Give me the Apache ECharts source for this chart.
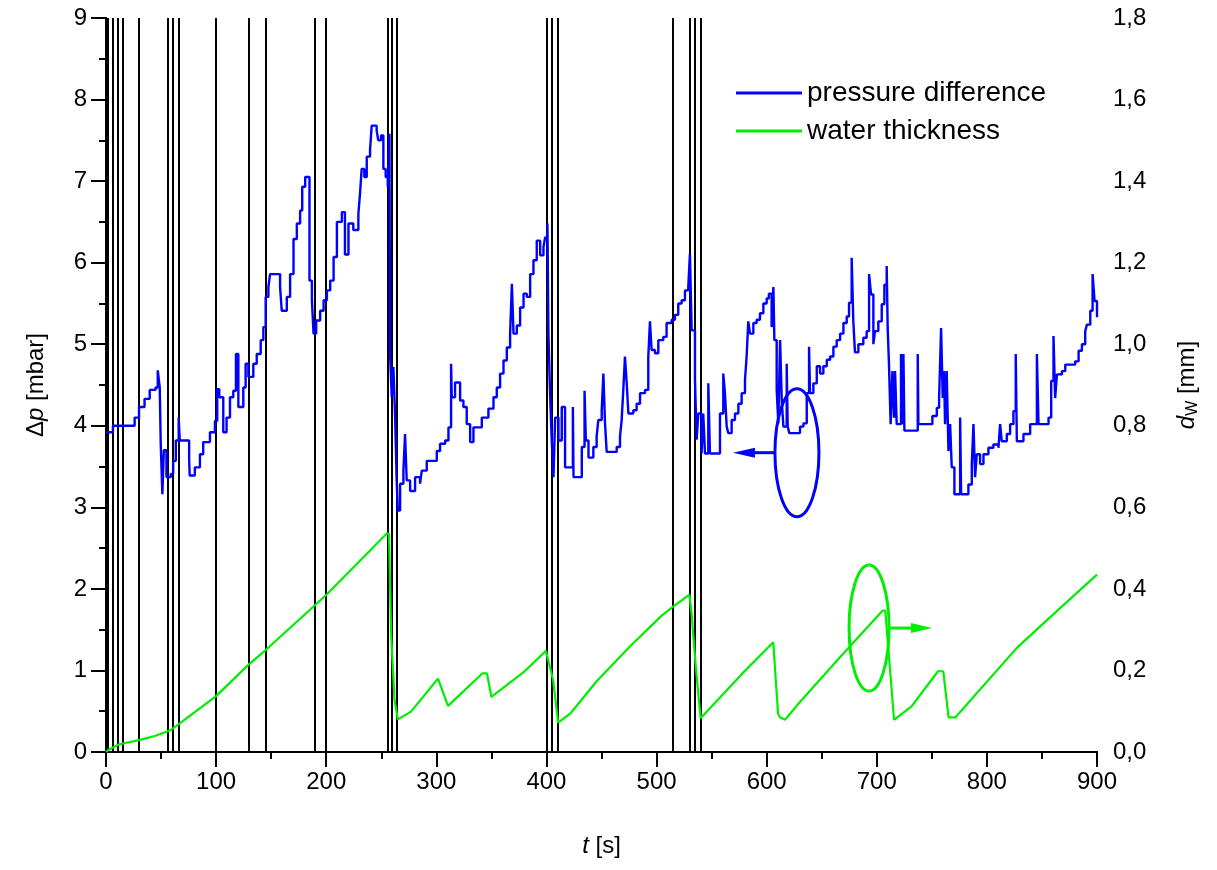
<!DOCTYPE html>
<html>
<head>
<meta charset="utf-8">
<script src="https://cdn.jsdelivr.net/npm/echarts@6/dist/echarts.min.js"></script>
<style>
html, body { margin: 0; padding: 0; background: #fff; }
#chart { width: 1217px; height: 870px; }
</style>
</head>
<body>
<div id="chart"></div>
<script>
// pressure difference [t (s), dp (mbar)], step-like recording
var pressureData = [
    [0, 3.92], [6.3, 4.0], [26, 4.1], [30, 4.23], [35, 4.33], [39.7, 4.44], [45, 4.47], [47, 4.68],
    [48.8, 4.47], [49.7, 3.78], [51.2, 3.16], [52.5, 3.7], [54.9, 3.37], [58.8, 3.41], [61, 3.57],
    [63.4, 3.82], [66, 4.1], [67, 3.82], [75.5, 3.59], [76, 3.39], [80.7, 3.49], [85.3, 3.65],
    [88.3, 3.8], [94.4, 3.92], [98.9, 4.06], [101, 4.45], [102.9, 4.35], [106.5, 3.92], [109.5, 4.1],
    [112.6, 4.35], [115.6, 4.43], [118, 4.88], [120.2, 4.23], [124.7, 4.47], [126.8, 4.76],
    [129.3, 4.6], [133.8, 4.76], [136.9, 4.88], [140.5, 5.05], [142.9, 5.21], [145, 5.58],
    [147.5, 5.7], [149, 5.86], [158.1, 5.7], [159.6, 5.41], [164.2, 5.58], [167.2, 5.86],
    [170.3, 6.29], [173.3, 6.48], [176.3, 6.64], [178.2, 6.93], [180.9, 7.05], [184.8, 5.78],
    [187, 5.54], [188.5, 5.13], [190.9, 5.29], [194.5, 5.41], [197.6, 5.54], [200.6, 5.66],
    [203.6, 5.78], [206.7, 6.07], [209.7, 6.5], [214.2, 6.62], [217, 6.1], [220.2, 6.48],
    [224.6, 6.4], [229.2, 6.6], [230.7, 6.85], [232.2, 7.15], [234.6, 7.05], [236.8, 7.3],
    [239.8, 7.38], [241.3, 7.68], [245.8, 7.62], [247.3, 7.5], [249.8, 7.56], [251.9, 7.15],
    [254, 7.05], [255.9, 6.93], [257.4, 7.58], [258, 4.88], [259.5, 4.35], [261, 4.72],
    [262.5, 4.14], [264, 3.33], [265, 2.96], [267.1, 3.29], [270.1, 3.45], [271.6, 3.9],
    [273.1, 3.33], [276.2, 3.2], [280.7, 3.37], [285.2, 3.29], [286.8, 3.45], [291.3, 3.57],
    [300.4, 3.69], [303.4, 3.78], [308, 3.82], [311, 3.98], [313.4, 4.76], [314, 4.35],
    [317, 4.53], [321.6, 4.31], [324.6, 4.23], [327.6, 4.02], [330.7, 3.8], [333.7, 3.98],
    [341.3, 4.1], [347.3, 4.21], [351.9, 4.35], [354.9, 4.47], [357.9, 4.64], [361, 4.8],
    [364, 4.96], [367, 5.13], [368.6, 5.74], [370.1, 5.13], [373.1, 5.23], [376.1, 5.45],
    [379.2, 5.62], [382.2, 5.58], [385.2, 5.86], [388.2, 6.03], [391.2, 6.27], [394.3, 6.09],
    [397.3, 6.19], [398.8, 6.31], [400.9, 6.48], [401.8, 5.13], [403.3, 4.39], [404.8, 3.82],
    [406.4, 3.37], [407.9, 4.1], [410.9, 3.82], [413.9, 4.23], [416.9, 3.49], [424, 4.23],
    [424.6, 3.37], [432.1, 3.74], [434.6, 4.43], [435.8, 3.82], [438.2, 3.61], [442.6, 3.74],
    [445.6, 3.87], [447.1, 4.07], [450.2, 4.19], [451.7, 4.64], [453.2, 4.03], [454.7, 3.68],
    [463.8, 3.74], [466.8, 3.87], [468.3, 4.07], [469.8, 4.44], [471.3, 4.85], [472.9, 4.52],
    [474.4, 4.15], [478.9, 4.19], [481.9, 4.27], [485, 4.4], [489.5, 4.44], [492.5, 4.85],
    [494, 5.28], [495.5, 4.93], [498.6, 4.89], [501.6, 5.05], [506.1, 5.09], [509.1, 5.26],
    [513.7, 5.3], [516.7, 5.36], [519.7, 5.5], [522.8, 5.54], [525.8, 5.66], [528.8, 5.7],
    [530.3, 6.11], [531.9, 5.17], [534.9, 4.56], [536.4, 3.83], [537.9, 4.15], [540.9, 3.66],
    [542.4, 4.15], [544, 3.66], [547, 4.52], [548.5, 3.66], [557.6, 4.15], [560.6, 4.64],
    [562.1, 4.4], [563.7, 3.99], [565.2, 3.91], [568.2, 4.07], [571.2, 4.15], [574.3, 4.27],
    [577.3, 4.4], [580.3, 4.56], [581.8, 4.85], [583.3, 5.28], [584.9, 5.13], [587.9, 5.26],
    [590.9, 5.3], [593.9, 5.38], [597, 5.5], [600, 5.56], [602, 5.62], [604.5, 5.21],
    [606.1, 5.7], [607, 5.05], [609.1, 4.44], [610.6, 4.03], [612.2, 5.05], [613.7, 4.31],
    [615.2, 3.99], [618.2, 4.76], [619.1, 3.99], [620.6, 3.91], [630.3, 3.99], [633.4, 4.03],
    [636.4, 4.4], [638.5, 4.97], [639.4, 4.4], [642.4, 4.52], [645.5, 4.73], [648.5, 4.64],
    [651.5, 4.73], [654.6, 4.81], [657.6, 4.85], [660.6, 4.97], [663.6, 5.05], [666.7, 5.13],
    [669.7, 5.26], [672.7, 5.34], [674.8, 5.51], [677.2, 6.06], [678.7, 5.28], [680.2, 4.9],
    [683.3, 5.0], [687.8, 5.08], [690.8, 5.16], [693, 5.86], [694.8, 5.61], [696.9, 5.0],
    [698.4, 5.16], [701.4, 5.28], [704.5, 5.49], [706.9, 5.73], [709, 5.96], [709.9, 5.2],
    [711.1, 4.75], [712.6, 4.02], [714.2, 4.67], [715.7, 4.1], [716.6, 4.67], [718.1, 4.02],
    [722, 4.88], [723.3, 4.02], [724.2, 4.88], [725.1, 3.94], [737.2, 4.88], [737.8, 4.02],
    [750.5, 4.12], [754.5, 4.22], [756.6, 4.34], [758.4, 5.2], [759.9, 4.34], [761.1, 4.67],
    [762, 4.02], [763.5, 4.67], [765.1, 3.69], [766.6, 4.02], [768.1, 3.49], [770.5, 3.16],
    [775.7, 4.1], [776.6, 3.16], [783.2, 3.28], [786.3, 3.53], [787.8, 4.02], [789.3, 3.37],
    [790.8, 3.65], [793.8, 3.53], [796.9, 3.65], [801.4, 3.73], [805.9, 3.77], [810.5, 3.73],
    [812, 4.02], [813.5, 3.81], [818.1, 3.9], [821.1, 4.02], [824.1, 4.18], [826.2, 4.88],
    [827.2, 3.81], [833.2, 3.9], [839.3, 4.02], [845.4, 4.88], [846.9, 4.02], [856, 4.1],
    [858.4, 4.55], [860.5, 5.1], [862, 4.34], [863.6, 4.63], [868.1, 4.67], [871.2, 4.75],
    [880.2, 4.79], [883.3, 4.92], [886.3, 5.0], [889.3, 5.16], [890.8, 5.24], [893.9, 5.41],
    [896, 5.86], [897.8, 5.53], [900, 5.33]
];

// water thickness [t (s), dW (mm)]
var thicknessData = [
    [0, 0.0], [2, 0.005], [12, 0.019], [30, 0.029], [45, 0.04], [59, 0.054], [67, 0.07],
    [100, 0.137], [129, 0.213], [145, 0.25], [189, 0.358], [200, 0.385], [255, 0.536],
    [257, 0.535], [259, 0.286], [262, 0.128], [265, 0.08], [277, 0.099], [301.5, 0.18],
    [310.6, 0.113], [342, 0.193], [346, 0.193], [350, 0.135], [379, 0.195], [399.5, 0.248],
    [406, 0.178], [410.6, 0.072], [421.9, 0.095], [445.8, 0.174], [476.2, 0.26],
    [504.9, 0.335], [514.5, 0.355], [529.8, 0.386], [532, 0.335], [535.3, 0.219], [540, 0.083],
    [578.4, 0.194], [606, 0.269], [610.3, 0.095], [612, 0.085], [616.7, 0.079], [629.4, 0.12],
    [667.8, 0.236], [705.4, 0.347], [707.7, 0.347], [715.7, 0.079], [731.6, 0.112],
    [755.6, 0.198], [760.4, 0.198], [765.2, 0.085], [771.5, 0.085], [827.4, 0.256],
    [865.7, 0.351], [900, 0.435]
];

// times of the vertical event lines (s)
var eventTimes = [2, 6, 11, 15, 30, 56, 61, 66, 100, 130, 145, 190, 200, 256, 259.5, 264,
    400, 405, 410, 515, 530, 535, 540];

// annotation anchors: [t, value on the axis the circle points to]
var pressureMark = [627.5, 3.67];
var thicknessMark = [693, 0.304];

// the reference lettering is a tall, narrow sans; use the narrow face when installed
function hasFont(name) {
    var ctx = document.createElement('canvas').getContext('2d');
    var s = 'pressure difference 0123456789';
    ctx.font = '40px monospace';
    var a = ctx.measureText(s).width;
    ctx.font = '40px "' + name + '", monospace';
    return ctx.measureText(s).width !== a;
}
var narrow = hasFont('Liberation Sans Narrow');
var FONT = narrow ? '"Liberation Sans Narrow", "Liberation Sans", sans-serif' : '"Liberation Sans", Arial, sans-serif';
var SIZE = narrow ? 29 : 24;
var LEGEND_FONT = '"Liberation Sans", Arial, sans-serif';
var BLUE = '#0000ff';
var GREEN = '#00ee00';

var chart = echarts.init(document.getElementById('chart'));

var axisLine = { show: true, lineStyle: { color: '#000', width: 2 } };
var labelStyle = { fontFamily: FONT, fontSize: SIZE, color: '#000' };
var italic = { fontFamily: FONT, fontSize: SIZE, fontStyle: 'italic', color: '#000' };

var option = {
    animation: false,
    backgroundColor: '#fff',
    grid: { left: 106, right: 120, top: 18, bottom: 118 },
    legend: {
        orient: 'vertical',
        left: 731,
        top: 74,
        icon: 'rect',
        itemWidth: 66,
        itemHeight: 3,
        itemGap: 10,
        textStyle: { fontFamily: LEGEND_FONT, fontSize: 28, color: '#000' },
        data: ['pressure difference', 'water thickness']
    },
    xAxis: [
        {
            type: 'value',
            position: 'bottom',
            min: 0,
            max: 900,
            interval: 100,
            name: '{i|t} [s]',
            nameLocation: 'middle',
            nameGap: 82,
            nameTextStyle: { fontFamily: FONT, fontSize: SIZE, color: '#000', rich: { i: italic } },
            axisLine: axisLine,
            axisTick: { length: 15, lineStyle: { color: '#000', width: 2 } },
            minorTick: { show: true, splitNumber: 2, length: 7, lineStyle: { color: '#000', width: 2 } },
            splitLine: { show: false },
            axisLabel: Object.assign({ margin: 18 }, labelStyle)
        },
        {
            type: 'value',
            position: 'top',
            min: 0,
            max: 900,
            interval: 100,
            axisLine: axisLine,
            axisTick: { inside: true, length: 15, lineStyle: { color: '#000', width: 2 } },
            minorTick: { show: true, splitNumber: 2, length: 7, lineStyle: { color: '#000', width: 2 } },
            splitLine: { show: false },
            axisLabel: { show: false }
        }
    ],
    yAxis: [
        {
            type: 'value',
            position: 'left',
            min: 0,
            max: 9,
            interval: 1,
            name: '\u0394{i|p} [mbar]',
            nameLocation: 'middle',
            nameRotate: 90,
            nameGap: 58,
            nameTextStyle: { fontFamily: FONT, fontSize: SIZE, color: '#000', rich: { i: italic } },
            axisLine: axisLine,
            axisTick: { length: 15, lineStyle: { color: '#000', width: 2 } },
            minorTick: { show: true, splitNumber: 2, length: 7, lineStyle: { color: '#000', width: 2 } },
            splitLine: { show: false },
            axisLabel: Object.assign({ margin: 19 }, labelStyle)
        },
        {
            type: 'value',
            position: 'right',
            min: 0,
            max: 1.8,
            interval: 0.2,
            name: '{i|d}{s|W} [mm]',
            nameLocation: 'middle',
            nameRotate: 90,
            nameGap: 76,
            nameTextStyle: {
                fontFamily: FONT, fontSize: SIZE, color: '#000',
                rich: {
                    i: italic,
                    s: { fontFamily: FONT, fontSize: Math.round(SIZE * 0.65), color: '#000', verticalAlign: 'bottom', padding: [12, 0, 0, 0] }
                }
            },
            axisLine: axisLine,
            axisTick: { inside: true, length: 13, lineStyle: { color: '#000', width: 2 } },
            minorTick: { show: true, splitNumber: 2, length: 7, lineStyle: { color: '#000', width: 2 } },
            splitLine: { show: false },
            axisLabel: Object.assign({
                margin: 16,
                formatter: function (v) { return v.toFixed(1).replace('.', ','); }
            }, labelStyle)
        }
    ],
    series: [
        {
            name: 'events',
            type: 'line',
            data: [],
            silent: true,
            markLine: {
                silent: true,
                z: 1,
                symbol: ['none', 'none'],
                label: { show: false },
                lineStyle: { color: '#000', width: 2, type: 'solid' },
                data: eventTimes.map(function (t) { return { xAxis: t }; })
            }
        },
        {
            name: 'pressure difference',
            type: 'line',
            xAxisIndex: 0,
            yAxisIndex: 0,
            step: 'end',
            symbol: 'none',
            z: 3,
            lineStyle: { color: BLUE, width: 2.4 },
            itemStyle: { color: BLUE },
            data: pressureData
        },
        {
            name: 'water thickness',
            type: 'line',
            xAxisIndex: 0,
            yAxisIndex: 1,
            symbol: 'none',
            z: 3,
            lineStyle: { color: GREEN, width: 2.2 },
            itemStyle: { color: GREEN },
            data: thicknessData
        }
    ]
};

chart.setOption(option);

// circle-and-arrow annotations telling which axis each curve belongs to
var pc = chart.convertToPixel({ xAxisIndex: 0, yAxisIndex: 0 }, pressureMark);
var tc = chart.convertToPixel({ xAxisIndex: 0, yAxisIndex: 1 }, thicknessMark);

chart.setOption({
    graphic: [
        {
            type: 'ellipse', z: 10,
            shape: { cx: pc[0], cy: pc[1], rx: 22, ry: 64 },
            style: { fill: null, stroke: BLUE, lineWidth: 3 }
        },
        {
            type: 'line', z: 10,
            shape: { x1: pc[0] - 22, y1: pc[1], x2: pc[0] - 50, y2: pc[1] },
            style: { stroke: BLUE, lineWidth: 3 }
        },
        {
            type: 'polygon', z: 10,
            shape: { points: [[pc[0] - 64, pc[1]], [pc[0] - 42, pc[1] - 5], [pc[0] - 42, pc[1] + 5]] },
            style: { fill: BLUE }
        },
        {
            type: 'ellipse', z: 10,
            shape: { cx: tc[0], cy: tc[1], rx: 20, ry: 63 },
            style: { fill: null, stroke: GREEN, lineWidth: 3 }
        },
        {
            type: 'line', z: 10,
            shape: { x1: tc[0] + 20, y1: tc[1], x2: tc[0] + 48, y2: tc[1] },
            style: { stroke: GREEN, lineWidth: 3 }
        },
        {
            type: 'polygon', z: 10,
            shape: { points: [[tc[0] + 63, tc[1]], [tc[0] + 42, tc[1] - 5], [tc[0] + 42, tc[1] + 5]] },
            style: { fill: GREEN }
        }
    ]
});
</script>
</body>
</html>
